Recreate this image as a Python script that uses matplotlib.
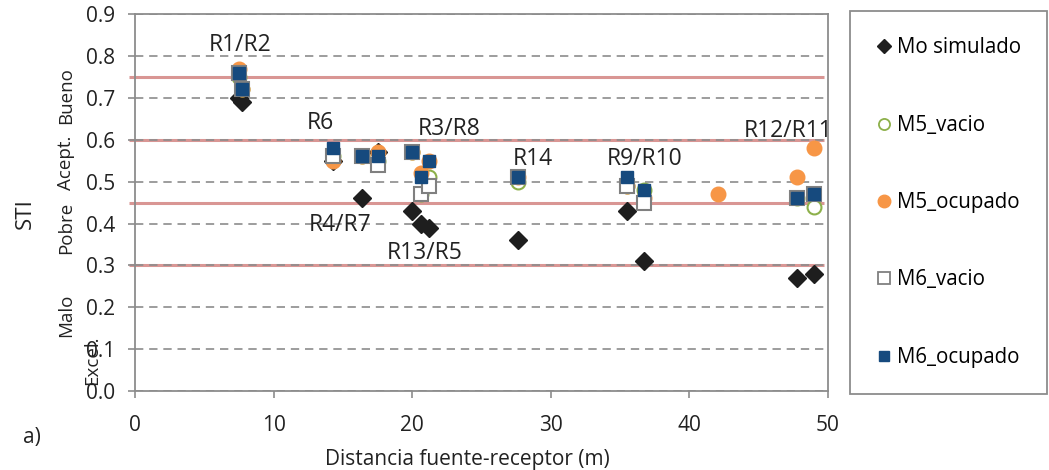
import numpy as np
import matplotlib.pyplot as plt
from matplotlib.lines import Line2D

plt.rcParams['font.family'] = ['Open Sans', 'DejaVu Sans']

# distances (m) of the receivers
dist = [7.5, 7.7, 14.3, 16.4, 17.5, 20.0, 20.6, 21.2, 27.6, 35.5, 36.7, 47.8, 49.0]
mo_sim = [0.70, 0.69, 0.55, 0.46, 0.57, 0.43, 0.40, 0.39, 0.36, 0.43, 0.31, 0.27, 0.28]
m5_vacio = [0.75, 0.72, 0.56, 0.56, 0.55, 0.57, 0.47, 0.51, 0.50, 0.49, 0.48, 0.46, 0.44]
m6_vacio = [0.76, 0.72, 0.56, 0.56, 0.54, 0.57, 0.47, 0.49, 0.51, 0.49, 0.45, 0.46, 0.47]
m6_ocup = [0.76, 0.72, 0.58, 0.56, 0.56, 0.57, 0.51, 0.55, 0.51, 0.51, 0.48, 0.46, 0.47]
# M5_ocupado has one extra point at 42.1 m
dist_m5o = [7.5, 7.7, 14.3, 16.4, 17.5, 20.0, 20.6, 21.2, 27.6, 35.5, 36.7, 42.1, 47.8, 49.0]
m5_ocup = [0.77, 0.72, 0.55, 0.56, 0.57, 0.57, 0.52, 0.55, 0.51, 0.49, 0.46, 0.47, 0.51, 0.58]

# STI category limits and labels
limits = [0.30, 0.45, 0.60, 0.75]
cat_names = ['Bueno', 'Acept.', 'Pobre', 'Malo', 'Excel.']
cat_x = [-0.099, -0.099, -0.099, -0.099, -0.062]
cat_y = [0.705, 0.545, 0.39, 0.18, 0.074]

# receiver labels
rec_names = ['R1/R2', 'R6', 'R3/R8', 'R14', 'R4/R7', 'R13/R5', 'R9/R10', 'R12/R11']
rec_x = [7.6, 13.4, 22.7, 28.7, 14.8, 20.9, 36.8, 47.1]
rec_y = [0.826, 0.64, 0.625, 0.553, 0.396, 0.33, 0.553, 0.62]

grey = '#8c8c8c'
fig = plt.figure(figsize=(10.49, 4.70), dpi=100)
ax = fig.add_axes([0.1287, 0.168, 0.6606, 0.802])

ax.hlines(limits, -0.4, 49.7, color='#d99694', lw=2.2, zorder=1.5, clip_on=False)

ax.plot(dist, mo_sim, ls='none', marker='D', ms=9.5, color='#1e1e1e', zorder=3)
ax.plot(dist, m5_vacio, ls='none', marker='o', ms=10, mfc='white', mec='#8db04a', mew=1.5, zorder=3)
ax.plot(dist_m5o, m5_ocup, ls='none', marker='o', ms=10.5, color='#f79646', zorder=3)
ax.plot(dist, m6_vacio, ls='none', marker='s', ms=10, mfc='white', mec='#808080', mew=1.5, zorder=3)
ax.plot(dist, m6_ocup, ls='none', marker='s', ms=9, color='#164a7e', zorder=3)

for name, x, y in zip(rec_names, rec_x, rec_y):
    ax.text(x, y, name, fontsize=16.5, ha='center', va='center', color='#222222', zorder=4)

ax.set_xlim(0, 50)
ax.set_ylim(0, 0.9)
ax.set_xticks(np.arange(0, 51, 10))
ax.set_yticks(np.arange(0, 0.91, 0.1))
ax.set_yticklabels(['%.1f' % v for v in np.arange(0, 0.91, 0.1)])
ax.tick_params(labelsize=15, colors=grey, labelcolor='#222222', length=5, width=1.2)
ax.tick_params(axis='x', pad=12)
ax.tick_params(axis='y', pad=9)
ax.grid(axis='y', ls=(0, (5, 3.5)), color=grey, lw=1.2, zorder=1)
for s in ax.spines.values():
    s.set_color(grey)
    s.set_linewidth(1.3)

ax.set_xlabel('Distancia fuente-receptor (m)', fontsize=15, color='#222222')
ax.xaxis.set_label_coords(0.479, -0.155)
ax.set_ylabel('STI', fontsize=16, color='#222222')
ax.yaxis.set_label_coords(-0.143, 0.47)

for name, x, y in zip(cat_names, cat_x, cat_y):
    ax.text(x, y, name, transform=ax.get_yaxis_transform(), rotation=90,
            fontsize=13.5, ha='center', va='center', color='#222222')

fig.text(0.022, 0.07, 'a)', fontsize=15, color='#222222', va='center')

handles = [
    Line2D([], [], ls='none', marker='D', ms=7, color='#1e1e1e'),
    Line2D([], [], ls='none', marker='o', ms=8, mfc='white', mec='#8db04a', mew=1.3),
    Line2D([], [], ls='none', marker='o', ms=9, color='#f79646'),
    Line2D([], [], ls='none', marker='s', ms=8, mfc='white', mec='#808080', mew=1.3),
    Line2D([], [], ls='none', marker='s', ms=7, color='#164a7e'),
]
labels = ['Mo simulado', 'M5_vacio', 'M5_ocupado', 'M6_vacio', 'M6_ocupado']
leg = fig.legend(handles, labels, loc='center', bbox_to_anchor=(0.8103, 0.166, 0.1877, 0.806),
                 bbox_transform=fig.transFigure, mode='expand', fontsize=14.8,
                 labelspacing=2.74, borderpad=1.3, borderaxespad=0, handlelength=0.7,
                 handletextpad=0.3, fancybox=False, framealpha=1)
leg.get_frame().set_edgecolor(grey)
leg.get_frame().set_linewidth(1.3)

fig.savefig('out.png', dpi=100)
